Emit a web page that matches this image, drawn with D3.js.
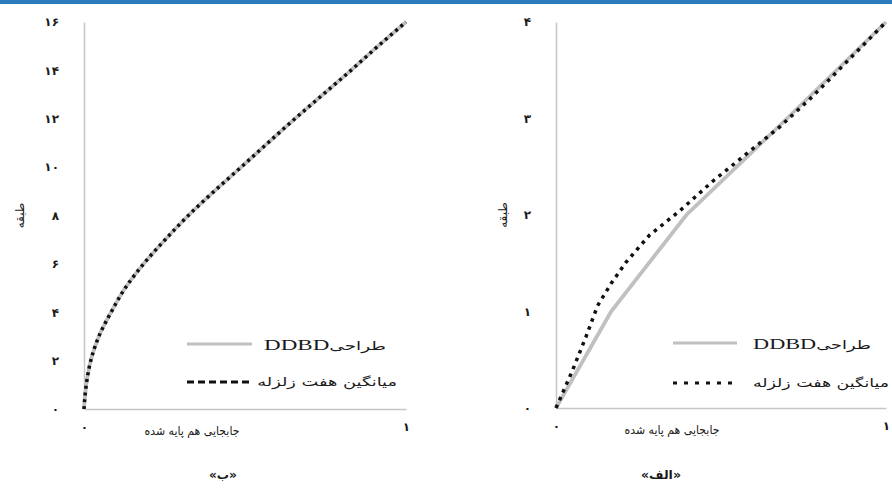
<!DOCTYPE html>
<html>
<head>
<meta charset="utf-8">
<script src="https://cdn.jsdelivr.net/npm/d3@7"></script>
<style>
  html, body { margin: 0; padding: 0; background: #fff; }
  svg { display: block; font-family: "DejaVu Sans", sans-serif; }
</style>
</head>
<body>
<div id="chart"></div>
<script>
// panel «ب» : 16 storeys
const storiesB = [0, 1, 2, 3, 4, 5, 6, 7, 8, 9, 10, 11, 12, 13, 14, 15, 16];
const ddbdB = [0, 0.007, 0.021, 0.046, 0.084, 0.128, 0.185, 0.252, 0.324, 0.404, 0.488, 0.571, 0.655, 0.742, 0.829, 0.913, 1];
const avgB = [0, 0.007, 0.021, 0.046, 0.084, 0.128, 0.185, 0.252, 0.324, 0.404, 0.488, 0.571, 0.655, 0.742, 0.829, 0.913, 1];
const yTicksB = [0, 2, 4, 6, 8, 10, 12, 14, 16];

// panel «الف» : 4 storeys
const storiesA = [0, 1, 2, 3, 4];
const ddbdA = [0, 0.167, 0.395, 0.70, 1];
// average curve read at more positions along its length
const avgLevelsA = [0, 0.39, 0.74, 1.06, 1.29, 1.51, 1.79, 2.04, 2.35, 2.63, 2.91, 3.23, 3.58, 4];
const avgA = [0, 0.05, 0.091, 0.126, 0.167, 0.212, 0.283, 0.374, 0.475, 0.576, 0.677, 0.778, 0.879, 1];
const yTicksA = [0, 1, 2, 3, 4];

const xTicks = [0, 1];
const X_TITLE = 'جابجایی هم پایه شده';
const Y_TITLE = 'طبقه';
const LEGEND_DDBD_FA = 'طراحی';
const LEGEND_DDBD_EN = 'DDBD';
const LEGEND_AVG = 'میانگین هفت زلزله';

const W = 892, H = 491;
const GRAY = '#c0c0c0';
const AXIS_GRAY = '#c6c6c6';
const TEXT = '#1a1a1a';

const faDigits = (v) => String(v).replace(/\d/g, (d) => '۰۱۲۳۴۵۶۷۸۹'[d]);

const svg = d3.select('#chart').append('svg').attr('width', W).attr('height', H);

svg.append('rect').attr('x', 0).attr('y', 0).attr('width', W).attr('height', 4).attr('fill', '#2b7bbd');

// the source picture is stretched sideways; widen a text around its anchor
function stretch(sel, ax, ay, width) {
  const w = sel.node().getComputedTextLength();
  const s = width / w;
  sel.attr('transform', `translate(${ax},${ay}) scale(${s},1) translate(${-ax},${-ay})`);
}

function drawPanel(p) {
  const x = d3.scaleLinear().domain([0, 1]).range(p.xRange);
  const y = d3.scaleLinear().domain([0, p.yMax]).range(p.yRange);
  const g = svg.append('g');

  const yAxis = g.append('g')
    .attr('transform', `translate(${p.xRange[0]},0)`)
    .call(d3.axisLeft(y).tickValues(p.yTicks).tickSize(0).tickPadding(25).tickFormat(faDigits));
  const xAxis = g.append('g')
    .attr('transform', `translate(0,${p.yRange[0]})`)
    .call(d3.axisBottom(x).tickValues(xTicks).tickSize(0).tickPadding(13).tickFormat(faDigits));

  for (const ax of [yAxis, xAxis]) {
    ax.select('.domain').attr('stroke', AXIS_GRAY).attr('stroke-width', 1.5);
    ax.selectAll('text')
      .attr('font-family', '"DejaVu Sans", sans-serif')
      .attr('font-size', '12px')
      .attr('font-weight', 'bold')
      .attr('fill', TEXT);
  }

  const line = (curve) => d3.line()
    .x((d) => x(d[0]))
    .y((d) => y(d[1]))
    .curve(curve);

  g.append('path')
    .datum(p.ddbd.map((v, i) => [v, p.stories[i]]))
    .attr('d', line(p.curve))
    .attr('fill', 'none')
    .attr('stroke', GRAY)
    .attr('stroke-width', 3.8);

  g.append('path')
    .datum(p.avg.map((v, i) => [v, p.avgLevels[i]]))
    .attr('d', line(p.curve))
    .attr('fill', 'none')
    .attr('stroke', '#111')
    .attr('stroke-width', 3.5)
    .attr('stroke-dasharray', p.dash);

  // axis titles
  const ym = (p.yRange[0] + p.yRange[1]) / 2;
  g.append('text')
    .attr('transform', `translate(${p.yTitleX},${ym}) rotate(-90)`)
    .attr('text-anchor', 'middle')
    .attr('dy', '0.35em')
    .attr('font-size', '12px')
    .attr('fill', TEXT)
    .text(Y_TITLE);

  const xt = g.append('text')
    .attr('x', p.xTitleX)
    .attr('y', p.yRange[0] + 22)
    .attr('text-anchor', 'middle')
    .attr('dy', '0.35em')
    .attr('font-size', '12px')
    .attr('fill', TEXT)
    .text(X_TITLE);
  stretch(xt, p.xTitleX, p.yRange[0] + 22, 95);

  // caption
  const cap = g.append('text')
    .attr('x', p.captionX)
    .attr('y', 475)
    .attr('text-anchor', 'middle')
    .attr('dy', '0.35em')
    .attr('font-size', '12px')
    .attr('font-weight', 'bold')
    .attr('fill', TEXT)
    .text(p.caption);
  stretch(cap, p.captionX, 475, p.captionW);

  // legend
  const lg = p.legend;
  g.append('line')
    .attr('x1', lg.x0).attr('x2', lg.x1)
    .attr('y1', lg.y0).attr('y2', lg.y0)
    .attr('stroke', GRAY).attr('stroke-width', 3);
  const t1 = g.append('text')
    .attr('x', lg.tx0).attr('y', lg.y0)
    .attr('dy', '0.35em')
    .attr('direction', 'rtl')
    .attr('text-anchor', 'start')
    .attr('fill', TEXT);
  t1.append('tspan').attr('font-size', '12px').text(LEGEND_DDBD_FA);
  t1.append('tspan').attr('font-family', '"Liberation Serif", serif').attr('font-size', '15px').text(LEGEND_DDBD_EN);
  stretch(t1, lg.tx0, lg.y0, lg.w0);

  g.append('line')
    .attr('x1', lg.x0).attr('x2', lg.x1)
    .attr('y1', lg.y1).attr('y2', lg.y1)
    .attr('stroke', '#111').attr('stroke-width', 3.2)
    .attr('stroke-dasharray', lg.dash);
  const t2 = g.append('text')
    .attr('x', lg.tx1).attr('y', lg.y1)
    .attr('dy', '0.35em')
    .attr('direction', 'rtl')
    .attr('text-anchor', 'start')
    .attr('font-size', '12px')
    .attr('fill', TEXT)
    .text(LEGEND_AVG);
  stretch(t2, lg.tx1, lg.y1, lg.w1);
}

drawPanel({
  stories: storiesB, ddbd: ddbdB, avgLevels: storiesB, avg: avgB, yMax: 16, yTicks: yTicksB,
  xRange: [84, 406], yRange: [409, 22], dash: '3,3.8', curve: d3.curveMonotoneY,
  yTitleX: 20, xTitleX: 192, captionX: 223, caption: '«ب»', captionW: 28,
  legend: { x0: 187, x1: 252, y0: 344, y1: 382, tx0: 386, tx1: 397, w0: 122, w1: 140, dash: '7,4' }
});

drawPanel({
  stories: storiesA, ddbd: ddbdA, avgLevels: avgLevelsA, avg: avgA, yMax: 4, yTicks: yTicksA,
  xRange: [556, 886], yRange: [408, 22], dash: '3.5,5', curve: d3.curveLinear,
  yTitleX: 503, xTitleX: 672, captionX: 661, caption: '«الف»', captionW: 40,
  legend: { x0: 673, x1: 737, y0: 343, y1: 383, tx0: 871, tx1: 889, w0: 118, w1: 136, dash: '4,7' }
});
</script>
</body>
</html>
